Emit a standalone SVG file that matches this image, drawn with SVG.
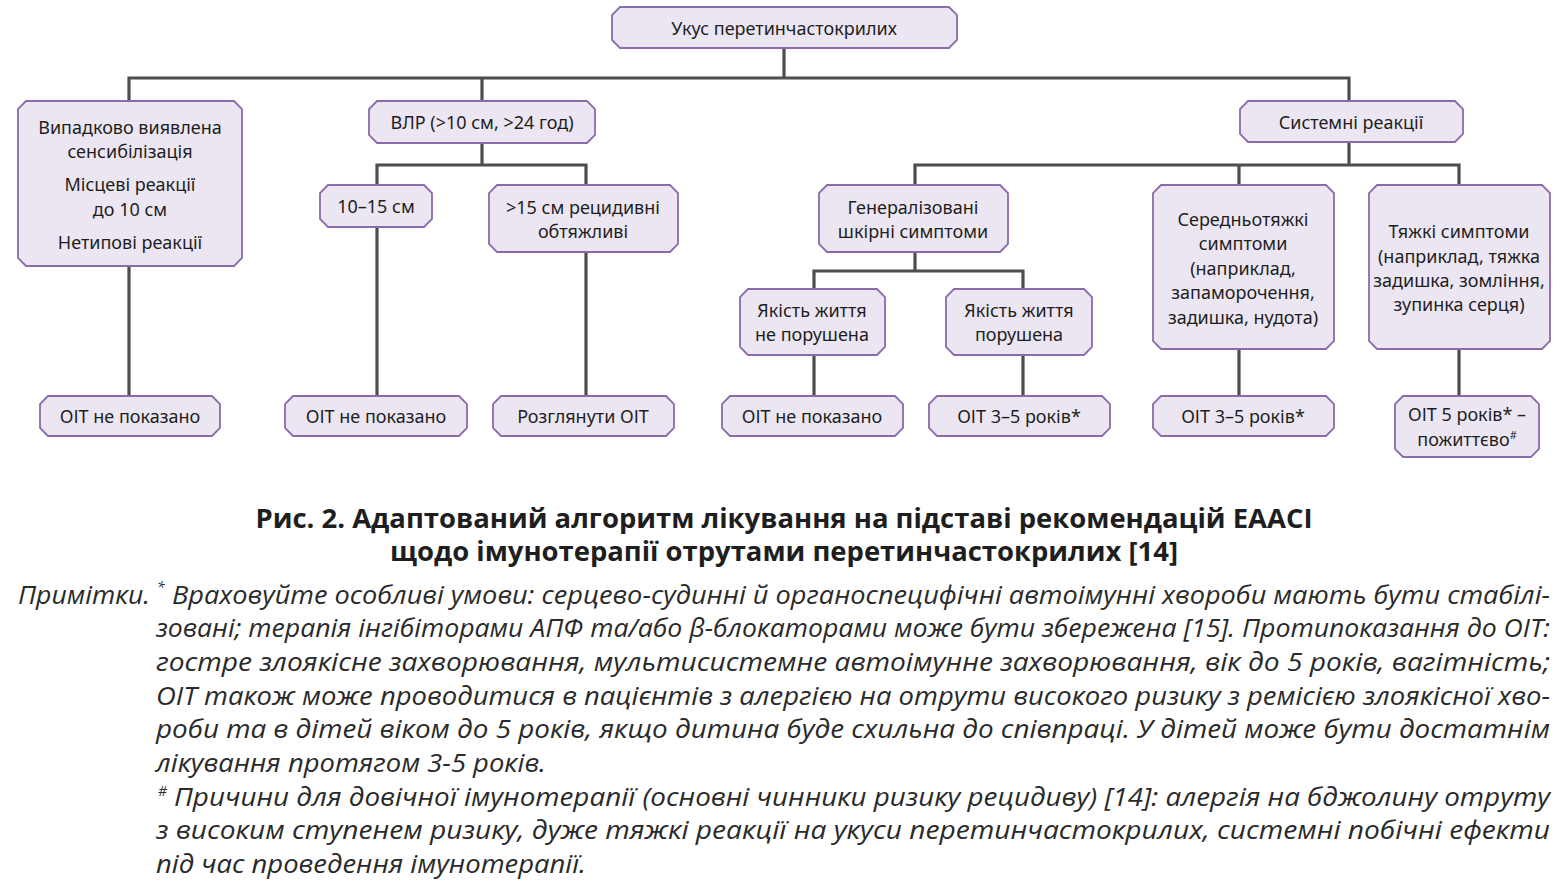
<svg xmlns="http://www.w3.org/2000/svg" width="1561" height="885" viewBox="0 0 1561 885">
<style>
.box{fill:#ece6f3;stroke:#8b6bab;stroke-width:1.8}
.t{font-family:"Noto Sans","DejaVu Sans",sans-serif;font-size:18px;fill:#1e1e1e;text-anchor:middle}
.c{fill:none;stroke:#4d4d4d;stroke-width:3.2}
.cap{font-family:"Open Sans","Noto Sans",sans-serif;font-weight:bold;font-size:26px;fill:#1e1e1e;text-anchor:middle}
.n{font-family:"Open Sans","Noto Sans",sans-serif;font-style:italic;font-size:25px;fill:#2a2a2a}
.sup{font-family:"Open Sans","Noto Sans",sans-serif;font-style:italic;font-size:14px;fill:#2a2a2a}
</style>
<rect width="1561" height="885" fill="#ffffff"/>
<g id="connectors">
<path class="c" d="M784,48 V78 M129,101 V78 H1349 V101 M482,78 V101 M129,266 V396 M482,143 V165 M377,185 V165 H586 V185 M377,227 V396 M586,252 V396 M1349,142 V165 M915,185 V165 H1459 V185 M1239,165 V185 M915,252 V271 M814,289 V271 H1023 V289 M814,355 V396 M1023,355 V396 M1239,349 V396 M1459,349 V396"/>
</g>
<g id="n-top"><polygon class="box" points="620,7 949,7 957,15 957,40 949,48 620,48 612,40 612,15"/><text class="t" x="784" y="35">Укус перетинчастокрилих</text></g>
<g id="n-left"><polygon class="box" points="26,101 234,101 242,109 242,258 234,266 26,266 18,258 18,109"/>
<text class="t" x="130" y="134">Випадково виявлена</text><text class="t" x="130" y="158">сенсибілізація</text><text class="t" x="130" y="191">Місцеві реакції</text><text class="t" x="130" y="216">до 10 см</text><text class="t" x="130" y="249">Нетипові реакції</text></g>
<g id="n-b1"><polygon class="box" points="48,396 212,396 220,404 220,428 212,436 48,436 40,428 40,404"/><text class="t" x="130" y="423">ОІТ не показано</text></g>
<g id="n-vlp"><polygon class="box" points="377,101 587,101 595,109 595,135 587,143 377,143 369,135 369,109"/><text class="t" x="482" y="129">ВЛР (&gt;10 см, &gt;24 год)</text></g>
<g id="n-1015"><polygon class="box" points="328,185 424,185 432,193 432,219 424,227 328,227 320,219 320,193"/><text class="t" x="376" y="213">10–15 см</text></g>
<g id="n-15"><polygon class="box" points="497,185 670,185 678,193 678,244 670,252 497,252 489,244 489,193"/><text class="t" x="583" y="214">&gt;15 см рецидивні</text><text class="t" x="583" y="238">обтяжливі</text></g>
<g id="n-b2"><polygon class="box" points="293,396 459,396 467,404 467,428 459,436 293,436 285,428 285,404"/><text class="t" x="376" y="423">ОІТ не показано</text></g>
<g id="n-b3"><polygon class="box" points="501,396 666,396 674,404 674,428 666,436 501,436 493,428 493,404"/><text class="t" x="583" y="423">Розглянути ОІТ</text></g>
<g id="n-sys"><polygon class="box" points="1248,101 1455,101 1463,109 1463,134 1455,142 1248,142 1240,134 1240,109"/><text class="t" x="1351" y="129">Системні реакції</text></g>
<g id="n-gen"><polygon class="box" points="827,185 1000,185 1008,193 1008,244 1000,252 827,252 819,244 819,193"/><text class="t" x="913" y="214">Генералізовані</text><text class="t" x="913" y="238">шкірні симптоми</text></g>
<g id="n-q1"><polygon class="box" points="748,289 877,289 885,297 885,347 877,355 748,355 740,347 740,297"/><text class="t" x="812" y="317">Якість життя</text><text class="t" x="812" y="341">не порушена</text></g>
<g id="n-q2"><polygon class="box" points="954,289 1084,289 1092,297 1092,347 1084,355 954,355 946,347 946,297"/><text class="t" x="1019" y="317">Якість життя</text><text class="t" x="1019" y="341">порушена</text></g>
<g id="n-b4"><polygon class="box" points="730,396 895,396 903,404 903,428 895,436 730,436 722,428 722,404"/><text class="t" x="812" y="423">ОІТ не показано</text></g>
<g id="n-b5"><polygon class="box" points="937,396 1102,396 1110,404 1110,428 1102,436 937,436 929,428 929,404"/><text class="t" x="1019" y="423">ОІТ 3–5 років*</text></g>
<g id="n-mid"><polygon class="box" points="1161,185 1326,185 1334,193 1334,341 1326,349 1161,349 1153,341 1153,193"/>
<text class="t" x="1243" y="226">Середньотяжкі</text><text class="t" x="1243" y="250">симптоми</text><text class="t" x="1243" y="275">(наприклад,</text><text class="t" x="1243" y="299">запаморочення,</text><text class="t" x="1243" y="324">задишка, нудота)</text></g>
<g id="n-b6"><polygon class="box" points="1161,396 1326,396 1334,404 1334,428 1326,436 1161,436 1153,428 1153,404"/><text class="t" x="1243" y="423">ОІТ 3–5 років*</text></g>
<g id="n-sev"><polygon class="box" points="1377,185 1542,185 1550,193 1550,341 1542,349 1377,349 1369,341 1369,193"/>
<text class="t" x="1459" y="238">Тяжкі симптоми</text><text class="t" x="1459" y="263">(наприклад, тяжка</text><text class="t" x="1459" y="287">задишка, зомління,</text><text class="t" x="1459" y="311">зупинка серця)</text></g>
<g id="n-b7"><polygon class="box" points="1403,396 1531,396 1539,404 1539,449 1531,457 1403,457 1395,449 1395,404"/>
<text class="t" x="1467" y="421">ОІТ 5 років* –</text><text class="t" x="1467" y="446">пожиттєво<tspan font-size="11" dy="-7">#</tspan></text></g>
<g id="caption">
<text class="cap" x="784" y="528" textLength="1057" lengthAdjust="spacingAndGlyphs">Рис. 2. Адаптований алгоритм лікування на підставі рекомендацій EAACI</text>
<text class="cap" x="784" y="561" textLength="788" lengthAdjust="spacingAndGlyphs">щодо імунотерапії отрутами перетинчастокрилих [14]</text>
</g>
<g id="notes">
<text class="n" x="18" y="604" textLength="132" lengthAdjust="spacingAndGlyphs">Примітки.</text>
<text class="sup" x="157" y="592">*</text>
<text class="n" x="172" y="604" textLength="1378" lengthAdjust="spacingAndGlyphs">Враховуйте особливі умови: серцево-судинні й органоспецифічні автоімунні хвороби мають бути стабілі-</text>
<text class="n" x="156" y="637" textLength="1394" lengthAdjust="spacingAndGlyphs">зовані; терапія інгібіторами АПФ та/або β-блокаторами може бути збережена [15]. Протипоказання до ОІТ:</text>
<text class="n" x="156" y="671" textLength="1394" lengthAdjust="spacingAndGlyphs">гостре злоякісне захворювання, мультисистемне автоімунне захворювання, вік до 5 років, вагітність;</text>
<text class="n" x="156" y="705" textLength="1394" lengthAdjust="spacingAndGlyphs">ОІТ також може проводитися в пацієнтів з алергією на отрути високого ризику з ремісією злоякісної хво-</text>
<text class="n" x="156" y="738" textLength="1394" lengthAdjust="spacingAndGlyphs">роби та в дітей віком до 5 років, якщо дитина буде схильна до співпраці. У дітей може бути достатнім</text>
<text class="n" x="156" y="772" textLength="390" lengthAdjust="spacingAndGlyphs">лікування протягом 3-5 років.</text>
<text class="sup" x="158" y="796">#</text>
<text class="n" x="174" y="806" textLength="1376" lengthAdjust="spacingAndGlyphs">Причини для довічної імунотерапії (основні чинники ризику рецидиву) [14]: алергія на бджолину отруту</text>
<text class="n" x="156" y="839" textLength="1394" lengthAdjust="spacingAndGlyphs">з високим ступенем ризику, дуже тяжкі реакції на укуси перетинчастокрилих, системні побічні ефекти</text>
<text class="n" x="156" y="873" textLength="430" lengthAdjust="spacingAndGlyphs">під час проведення імунотерапії.</text>
</g>
</svg>
